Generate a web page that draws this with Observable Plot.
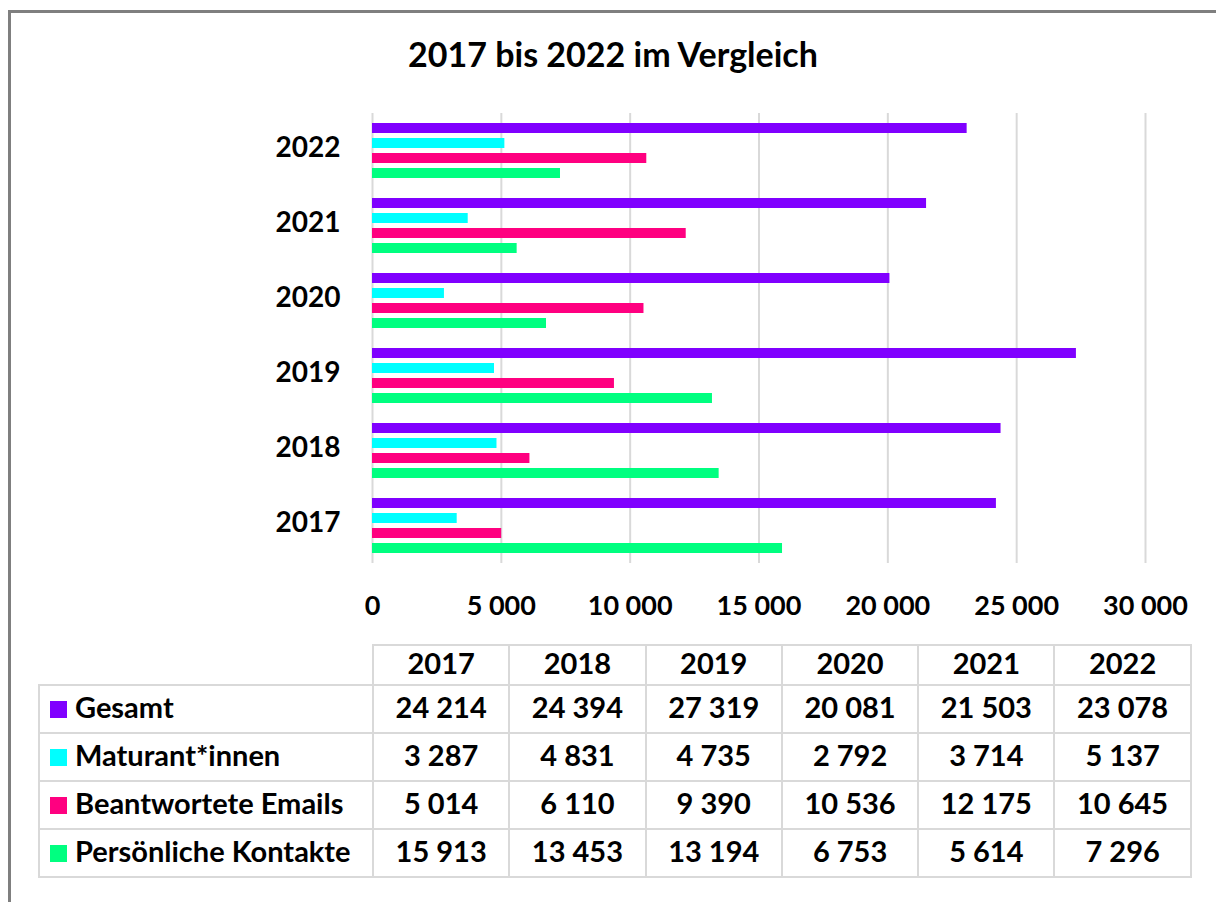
<!DOCTYPE html>
<html>
<head>
<meta charset="utf-8">
<script src="https://cdn.jsdelivr.net/npm/d3@7"></script>
<script src="https://cdn.jsdelivr.net/npm/@observablehq/plot@0.6"></script>
<style>
  html, body { margin: 0; padding: 0; background: #fff; }
  #root { position: relative; width: 1216px; height: 902px; overflow: hidden; font-family: Lato, "Open Sans", sans-serif; color: #000; }
  #frame { position: absolute; left: 8px; top: 10px; right: -10px; bottom: -10px; border-left: 3px solid #7f7f7f; border-top: 3px solid #7f7f7f; }
  #title { position: absolute; left: 0; top: 33px; width: 1226px; text-align: center; font-weight: bold; font-size: 34px; }
  #chart { position: absolute; left: 0; top: 0; }
  #tbl { position: absolute; left: 38px; top: 644px; width: 1152px; table-layout: fixed; border-collapse: collapse; font-weight: bold; font-size: 29px; }
  #tbl td { border: 2px solid #d9d9d9; text-align: center; padding: 0 0 6px 0; line-height: 1; }
  #tbl tr { height: 48px; }
  #tbl tr.head { height: 40px; }
  #tbl td.name { text-align: left; padding-left: 10px; white-space: nowrap; }
  #tbl td.blank { border-top: none; border-left: none; }
  .sw { display: inline-block; width: 17px; height: 17px; margin-right: 8px; vertical-align: 0px; }
</style>
</head>
<body>
<div id="root">
  <div id="frame"></div>
  <div id="chart"></div>
  <div id="title"></div>
  <table id="tbl"><colgroup id="cols"></colgroup></table>
</div>
<script>
const title = "2017 bis 2022 im Vergleich";
const years = [2017, 2018, 2019, 2020, 2021, 2022];
const seriesNames = ["Gesamt", "Maturant*innen", "Beantwortete Emails", "Persönliche Kontakte"];
const seriesColors = ["#8000ff", "#00ffff", "#ff0080", "#00ff80"];
const gesamt = [24214, 24394, 27319, 20081, 21503, 23078];
const maturant = [3287, 4831, 4735, 2792, 3714, 5137];
const emails = [5014, 6110, 9390, 10536, 12175, 10645];
const kontakte = [15913, 13453, 13194, 6753, 5614, 7296];
const xTicks = [0, 5000, 10000, 15000, 20000, 25000, 30000];

const seriesValues = [gesamt, maturant, emails, kontakte];
const fmt = d3.formatLocale({decimal: ",", thousands: " ", grouping: [3], currency: ["", ""]}).format(",d");

const data = years.flatMap((yr, i) => seriesNames.map((s, j) => ({year: String(yr), series: s, value: seriesValues[j][i]})));

document.getElementById("title").textContent = title;

const chart = Plot.plot({
  width: 1216,
  height: 640,
  marginLeft: 372,
  marginRight: 71,
  marginTop: 110,
  marginBottom: 75,
  style: {fontFamily: "Lato, 'Open Sans', sans-serif", color: "#000", background: "transparent"},
  x: {domain: [0, 30000]},
  fy: {domain: years.map(String).reverse(), padding: 0, label: null},
  y: {domain: seriesNames, paddingInner: 0.33, paddingOuter: 0.66, axis: null},
  color: {domain: seriesNames, range: seriesColors},
  marks: [
    Plot.ruleX(xTicks, {stroke: "#d9d9d9", strokeWidth: 2}),
    Plot.barX(data, {x: "value", y: "series", fy: "year", fill: "series"}),
    Plot.axisX({ticks: xTicks, tickFormat: fmt, tickSize: 0, tickPadding: 32, fontSize: 27, fontWeight: "bold", label: null}),
    Plot.axisFy({anchor: "left", tickSize: 0, tickPadding: 32, dy: -3, fontSize: 28, fontWeight: "bold", label: null})
  ]
});
document.getElementById("chart").appendChild(chart);

// data table below the chart
const tbl = document.getElementById("tbl");
const cols = document.getElementById("cols");
[334, ...years.map(() => 136.3)].forEach(w => { const c = document.createElement("col"); c.style.width = w + "px"; cols.appendChild(c); });
const head = document.createElement("tr");
head.className = "head";
const blank = document.createElement("td");
blank.className = "name blank";
head.appendChild(blank);
years.forEach(y => { const td = document.createElement("td"); td.textContent = y; head.appendChild(td); });
tbl.appendChild(head);
seriesNames.forEach((s, j) => {
  const tr = document.createElement("tr");
  const nm = document.createElement("td");
  nm.className = "name";
  const sw = document.createElement("span");
  sw.className = "sw";
  sw.style.background = seriesColors[j];
  nm.appendChild(sw);
  nm.appendChild(document.createTextNode(s));
  tr.appendChild(nm);
  seriesValues[j].forEach(v => { const td = document.createElement("td"); td.textContent = fmt(v); tr.appendChild(td); });
  tbl.appendChild(tr);
});
</script>
</body>
</html>
